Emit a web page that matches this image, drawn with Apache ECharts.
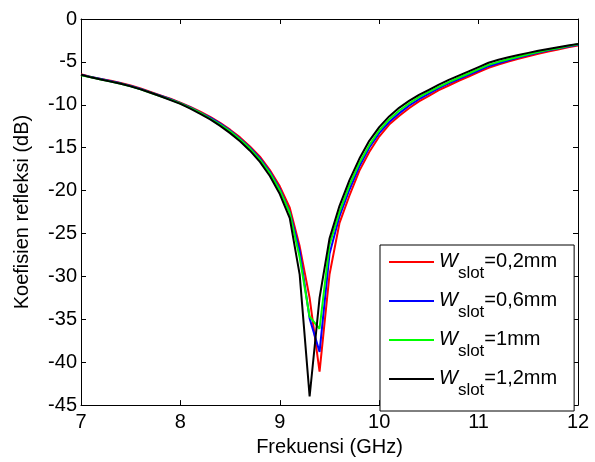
<!DOCTYPE html>
<html><head><meta charset="utf-8">
<script src="https://cdn.jsdelivr.net/npm/echarts@6/dist/echarts.min.js"></script>
<style>html,body{margin:0;padding:0;background:#fff}#c{width:595px;height:462px}</style>
</head><body><div id="c"></div>
<script>
const freq = [7.0,7.1,7.2,7.3,7.4,7.5,7.6,7.7,7.8,7.9,8.0,8.1,8.2,8.3,8.4,8.5,8.6,8.7,8.8,8.9,9.0,9.1,9.2,9.3,9.4,9.5,9.6,9.7,9.8,9.9,10.0,10.1,10.2,10.3,10.4,10.5,10.6,10.7,10.8,10.9,11.0,11.1,11.2,11.3,11.4,11.5,11.6,11.7,11.8,11.9,12.0];
const w02 = [-6.45,-6.75,-7.0,-7.2,-7.45,-7.75,-8.1,-8.5,-8.9,-9.3,-9.75,-10.25,-10.8,-11.4,-12.1,-12.9,-13.8,-14.85,-16.05,-17.6,-19.5,-22.0,-26.5,-32.5,-41.1,-29.8,-23.8,-20.6,-17.7,-15.5,-13.7,-12.3,-11.3,-10.4,-9.6,-8.95,-8.3,-7.75,-7.2,-6.7,-6.2,-5.7,-5.3,-4.95,-4.65,-4.35,-4.05,-3.8,-3.55,-3.3,-3.1];
const w06 = [-6.5,-6.75,-7.0,-7.25,-7.5,-7.8,-8.15,-8.55,-8.95,-9.35,-9.8,-10.3,-10.9,-11.5,-12.2,-13.0,-13.95,-15.0,-16.25,-17.8,-19.8,-22.5,-27.0,-34.9,-38.8,-27.4,-23.0,-19.9,-17.2,-15.0,-13.3,-12.0,-11.0,-10.1,-9.35,-8.7,-8.05,-7.5,-7.0,-6.5,-6.0,-5.5,-5.15,-4.8,-4.5,-4.2,-3.9,-3.65,-3.45,-3.2,-3.0];
const w10 = [-6.55,-6.8,-7.05,-7.3,-7.55,-7.85,-8.2,-8.6,-9.0,-9.4,-9.85,-10.35,-10.95,-11.6,-12.3,-13.1,-14.05,-15.1,-16.4,-17.95,-19.95,-22.6,-27.8,-34.7,-36.1,-26.3,-22.5,-19.4,-16.8,-14.7,-13.0,-11.7,-10.7,-9.85,-9.1,-8.5,-7.9,-7.35,-6.85,-6.35,-5.85,-5.35,-5.0,-4.7,-4.4,-4.1,-3.85,-3.6,-3.4,-3.15,-2.95];
const w12 = [-6.5,-6.8,-7.05,-7.3,-7.55,-7.85,-8.2,-8.6,-9.0,-9.45,-9.9,-10.45,-11.05,-11.7,-12.45,-13.3,-14.25,-15.35,-16.65,-18.3,-20.4,-23.2,-29.8,-44.0,-32.5,-25.6,-21.8,-18.8,-16.3,-14.2,-12.6,-11.35,-10.35,-9.55,-8.85,-8.25,-7.65,-7.1,-6.6,-6.1,-5.6,-5.1,-4.75,-4.45,-4.2,-3.95,-3.7,-3.5,-3.3,-3.1,-2.9];
const seriesNames = ['0,2mm','0,6mm','1mm','1,2mm'];
const seriesColors = ['#ff0000','#0000ff','#00ff00','#000000'];
const seriesData = [w02,w06,w10,w12];

const FONT = 'Liberation Sans, Arial, sans-serif';
const chart = echarts.init(document.getElementById('c'), null, {renderer:'canvas'});
const axisCommon = {
  axisLine:{show:true, onZero:false, lineStyle:{color:'#000', width:1}},
  axisTick:{show:true, inside:true, length:5, lineStyle:{color:'#000'}},
  splitLine:{show:false}
};
chart.setOption({
  animation:false,
  backgroundColor:'#fff',
  grid:{left:81, right:17, top:19, bottom:55, containLabel:false},
  xAxis:[
    Object.assign({type:'value', min:7, max:12, interval:1, position:'bottom',
      name:'Frekuensi (GHz)', nameLocation:'middle', nameGap:30,
      nameTextStyle:{fontFamily:FONT, fontSize:20, color:'#000'},
      axisLabel:{fontFamily:FONT, fontSize:20, color:'#000', margin:7}}, axisCommon),
    Object.assign({type:'value', min:7, max:12, interval:1, position:'top',
      axisLabel:{show:false}}, axisCommon)
  ],
  yAxis:[
    Object.assign({type:'value', min:-45, max:0, interval:5, position:'left',
      name:'Koefisien refleksi (dB)', nameLocation:'middle', nameGap:49,
      nameTextStyle:{fontFamily:FONT, fontSize:20, color:'#000'},
      axisLabel:{fontFamily:FONT, fontSize:20, color:'#000', margin:4}}, axisCommon),
    Object.assign({type:'value', min:-45, max:0, interval:5, position:'right',
      axisLabel:{show:false}}, axisCommon)
  ],
  legend:{
    orient:'vertical', left:380, top:245,
    icon:'rect', itemWidth:45, itemHeight:2, itemGap:8,
    borderColor:'#000', borderWidth:1, borderRadius:0,
    backgroundColor:'#fff',
    padding:[6,17,12,9],
    data: seriesNames.map(n => 'W=' + n),
    formatter: function(name){ return '{w|W}{s|slot}{n|=' + name.split('=')[1] + '}'; },
    textStyle:{
      fontFamily:FONT, color:'#000',
      rich:{
        w:{fontFamily:FONT, fontSize:20, fontStyle:'italic', lineHeight:22, verticalAlign:'top', color:'#000'},
        s:{fontFamily:FONT, fontSize:17, lineHeight:17, padding:[14,0,0,0], verticalAlign:'top', color:'#000'},
        n:{fontFamily:FONT, fontSize:20, lineHeight:22, verticalAlign:'top', color:'#000'}
      }
    }
  },
  series: seriesNames.map((n,i)=>({
    name:'W=' + n, type:'line', showSymbol:false, symbol:'none',
    color: seriesColors[i],
    lineStyle:{color:seriesColors[i], width:2},
    data: freq.map((f,j)=>[f, seriesData[i][j]]),
    z: 2 + i
  }))
});
</script></body></html>
